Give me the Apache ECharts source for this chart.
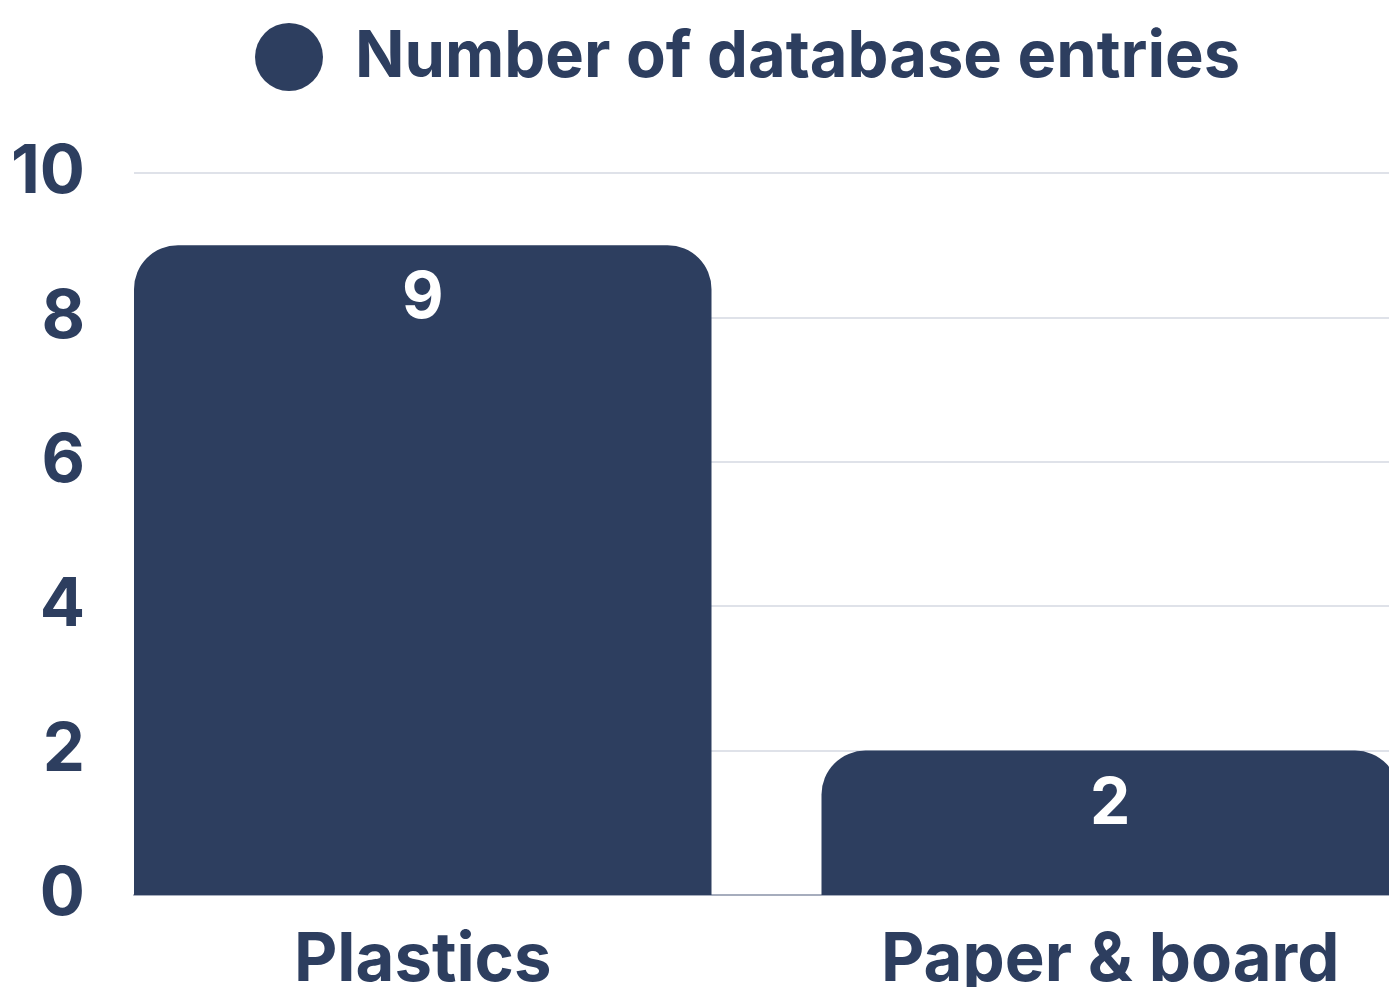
<!DOCTYPE html>
<html><head><meta charset="utf-8">
<script src="https://cdn.jsdelivr.net/npm/echarts@6/dist/echarts.min.js"></script>
<style>html,body{margin:0;padding:0;background:#fff}#c{width:1389px;height:987px}</style>
</head><body><div id="c"></div>
<script>
const categories = ['Plastics', 'Paper & board'];
const seriesName = 'Number of database entries';
const values = [9, 2];
const yTicks = [0, 2, 4, 6, 8, 10];

const C = '#2d3e5f';
const FONT = 'Inter';
const chart = echarts.init(document.getElementById('c'));
chart.setOption({
  animation: false,
  legend: {
    left: 250, top: 18,
    itemWidth: 68, itemHeight: 68,
    icon: 'circle',
    textStyle: { color: C, fontSize: 65, fontWeight: 'bold', fontFamily: FONT, padding: [0, 0, 0, 27] },
    data: [seriesName]
  },
  grid: [
    { left: 79, width: 1375, top: 173, bottom: 92, containLabel: false, outerBoundsMode: 'none' },
    { left: 134, right: 0, top: 173, bottom: 92, containLabel: false, outerBoundsMode: 'none' }
  ],
  xAxis: [
    { type: 'category', gridIndex: 0, data: categories,
      axisLine: { show: false }, axisTick: { show: false },
      axisLabel: { color: C, fontSize: 67, fontWeight: 'bold', fontFamily: FONT, margin: 32 } },
    { type: 'category', gridIndex: 1, data: categories,
      axisLine: { show: true, lineStyle: { color: '#a6adbd', width: 2 } },
      axisTick: { show: false }, axisLabel: { show: false } }
  ],
  yAxis: [
    { type: 'value', gridIndex: 0, min: 0, max: 10, interval: 2,
      axisLabel: { show: false }, splitLine: { show: false } },
    { type: 'value', gridIndex: 1, min: yTicks[0], max: yTicks[yTicks.length - 1], interval: 2,
      axisLabel: { color: C, fontSize: 67, fontWeight: 'bold', fontFamily: FONT, margin: 49 },
      splitLine: { lineStyle: { color: '#d5d8e2', width: 1.5 } } }
  ],
  series: [{
    name: seriesName, type: 'bar', xAxisIndex: 0, yAxisIndex: 0,
    data: values, barCategoryGap: '16%', z: 5,
    itemStyle: { color: C, borderRadius: [44, 44, 0, 0] },
    label: { show: true, position: 'insideTop', distance: 22, color: '#fff',
      fontSize: 64, fontWeight: 'bold', fontFamily: FONT }
  }]
});
</script></body></html>
